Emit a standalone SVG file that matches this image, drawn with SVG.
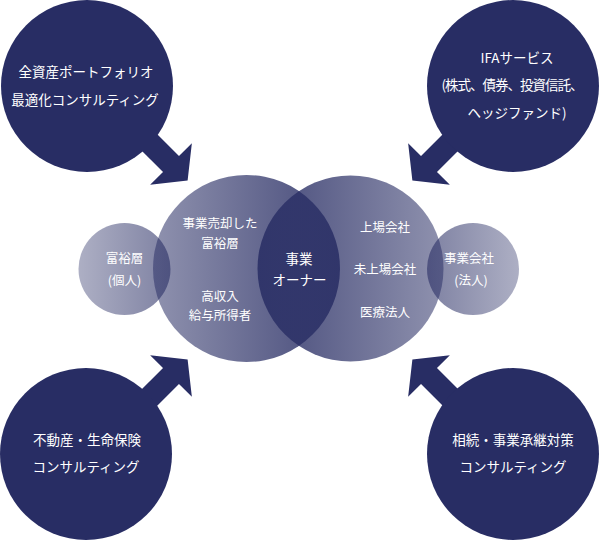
<svg xmlns="http://www.w3.org/2000/svg" width="600" height="540" viewBox="0 0 600 540">
<defs>
<style>
.outer{fill:#282d64}
.arrow{fill:#282d64}
.t{font-family:"Noto Sans CJK JP","Noto Sans",sans-serif;fill:#ffffff;text-anchor:middle;font-size:13.5px}
.s{font-size:12.5px}
</style>
<linearGradient id="gL" x1="0" y1="0" x2="1" y2="0">
<stop offset="0" stop-color="#282d64" stop-opacity="0.52"/>
<stop offset="1" stop-color="#282d64" stop-opacity="0.86"/>
</linearGradient>
<linearGradient id="gR" x1="1" y1="0" x2="0" y2="0">
<stop offset="0" stop-color="#282d64" stop-opacity="0.52"/>
<stop offset="1" stop-color="#282d64" stop-opacity="0.86"/>
</linearGradient>
<linearGradient id="gSL" x1="0" y1="0" x2="1" y2="0">
<stop offset="0" stop-color="#282d64" stop-opacity="0.38"/>
<stop offset="1" stop-color="#282d64" stop-opacity="0.6"/>
</linearGradient>
<linearGradient id="gSR" x1="1" y1="0" x2="0" y2="0">
<stop offset="0" stop-color="#282d64" stop-opacity="0.38"/>
<stop offset="1" stop-color="#282d64" stop-opacity="0.6"/>
</linearGradient>
<path id="arr" d="M-75,-11.3 L0,-11.3 L0,-29.5 L23.5,0 L0,29.5 L0,11.3 L-75,11.3 Z"/>
</defs>

<g id="connectors">
<use href="#arr" class="arrow" transform="translate(171,164) rotate(45)"/>
<use href="#arr" class="arrow" transform="translate(429,164) rotate(135)"/>
<use href="#arr" class="arrow" transform="translate(171,376) rotate(-45)"/>
<use href="#arr" class="arrow" transform="translate(429,376) rotate(-135)"/>
</g>

<g id="node-portfolio">
<circle class="outer" cx="87" cy="86" r="86"/>
<text class="t" x="86" y="77">全資産ポートフォリオ</text>
<text class="t" x="85" y="105">最適化コンサルティング</text>
</g>

<g id="node-ifa">
<circle class="outer" cx="513" cy="86" r="86"/>
<text class="t" x="517" y="63">IFAサービス</text>
<text class="t" x="512" y="90" letter-spacing="-1">(株式、債券、投資信託、</text>
<text class="t" x="517" y="118">ヘッジファンド)</text>
</g>

<g id="node-realestate">
<circle class="outer" cx="86" cy="454" r="86"/>
<text class="t" x="87" y="445">不動産・生命保険</text>
<text class="t" x="86" y="472">コンサルティング</text>
</g>

<g id="node-inheritance">
<circle class="outer" cx="513" cy="454" r="86"/>
<text class="t" x="513" y="445">相続・事業承継対策</text>
<text class="t" x="513" y="472">コンサルティング</text>
</g>

<g id="node-wealthy">
<circle cx="246.5" cy="268.5" r="93.5" fill="url(#gL)"/>
<text class="t s" x="220" y="228">事業売却した</text>
<text class="t s" x="220" y="248">富裕層</text>
<text class="t s" x="220" y="301">高収入</text>
<text class="t s" x="220" y="320">給与所得者</text>
</g>

<g id="node-companies">
<circle cx="350.5" cy="268.5" r="93" fill="url(#gR)"/>
<text class="t s" x="385" y="232">上場会社</text>
<text class="t s" x="385" y="274">未上場会社</text>
<text class="t s" x="385" y="317">医療法人</text>
</g>

<g id="node-individual">
<circle cx="124.5" cy="269" r="46" fill="url(#gSL)"/>
<text class="t s" x="124.5" y="263">富裕層</text>
<text class="t s" x="124.5" y="285">(個人)</text>
</g>

<g id="node-corporate">
<circle cx="473" cy="269" r="46" fill="url(#gSR)"/>
<text class="t s" x="469" y="263">事業会社</text>
<text class="t s" x="471" y="285">(法人)</text>
</g>

<g id="node-owner">
<text class="t" x="299" y="264">事業</text>
<text class="t" x="299.5" y="285">オーナー</text>
</g>
</svg>
